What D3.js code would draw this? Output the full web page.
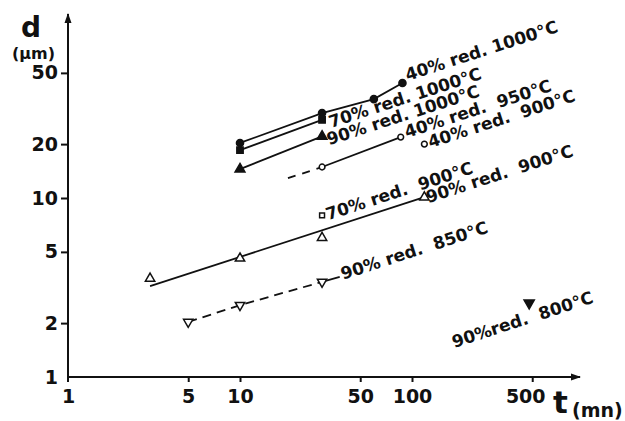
<!DOCTYPE html>
<html>
<head>
<meta charset="utf-8">
<script src="https://cdn.jsdelivr.net/npm/d3@7"></script>
<style>
body { margin: 0; background: #fff; }
text { font-family: "DejaVu Sans", "Liberation Sans", sans-serif; font-weight: bold; fill: #111; }
.lbl { font-size: 17px; letter-spacing: 0px; white-space: pre; }
</style>
</head>
<body>
<svg id="chart" width="625" height="421"></svg>
<script>
// tick values of both log axes
const xTicks = [1, 5, 10, 50, 100, 500];
const yTicks = [1, 2, 5, 10, 20, 50];

// grain size d (µm) vs annealing time t (mn), as [t, d]
const red40_1000 = [[10, 20.3], [30, 29.8], [60, 35.7], [88, 43.9]];
const red70_1000 = [[10, 18.5], [30, 27.3]];
const red90_1000 = [[10, 14.5], [30, 22.1]];
const red40_950 = [[30, 14.9], [86, 21.9]];
const red40_950ext = [[19, 12.9], [30, 14.9]];
const red40_900 = [[118, 20.0]];
const red70_900 = [[30, 8.0]];
const red90_900 = [[3, 3.55], [10, 4.6], [30, 6.0], [118, 10.1]];
const red90_900fit = [[3, 3.22], [118, 10.1]];
const red90_850 = [[5, 2.03], [10, 2.52], [30, 3.4]];
const red90_850ext = [[30, 3.4], [38, 3.62]];
const red90_800 = [[480, 2.59]];

const labelTexts = [
    "40% red. 1000°C", "70% red. 1000°C", "90% red. 1000°C",
    "40% red.  950°C", "40% red.  900°C", "70% red.  900°C",
    "90% red.  900°C", "90% red.  850°C", "90%red.  800°C"
];

const svg = d3.select('#chart');

const x = d3.scaleLog().domain([1, 1000]).range([68, 584]);
const y = d3.scaleLog().domain([1, 100]).range([377, 19]);

const line = d3.line().x(d => x(d[0])).y(d => y(d[1]));

// axes
const defs = svg.append('defs');
defs.append('marker')
    .attr('id', 'arrow')
    .attr('viewBox', '0 0 10 10')
    .attr('refX', 9).attr('refY', 5)
    .attr('markerWidth', 5).attr('markerHeight', 5)
    .attr('markerUnits', 'strokeWidth')
    .attr('orient', 'auto')
    .append('path').attr('d', 'M0,1.5 L10,5 L0,8.5 Z').attr('fill', '#111');

const ax = svg.append('g').attr('stroke', '#111').attr('stroke-width', 2);
ax.append('line')
    .attr('x1', x(1)).attr('y1', y(1) + 5)
    .attr('x2', x(1)).attr('y2', 14)
    .attr('marker-end', 'url(#arrow)');
ax.append('line')
    .attr('x1', x(1)).attr('y1', y(1))
    .attr('x2', 580).attr('y2', y(1))
    .attr('marker-end', 'url(#arrow)');

const yAxis = svg.append('g')
    .attr('transform', `translate(${x(1)},0)`)
    .call(d3.axisLeft(y).tickValues(yTicks).tickFormat(d3.format('d')).tickSize(7).tickPadding(3));
const xAxis = svg.append('g')
    .attr('transform', `translate(0,${y(1)})`)
    .call(d3.axisBottom(x).tickValues(xTicks).tickFormat(d3.format('d')).tickSize(5).tickPadding(8));
[yAxis, xAxis].forEach(g => {
    g.select('.domain').remove();
    g.selectAll('line').attr('stroke', '#111').attr('stroke-width', 2);
    g.selectAll('text').attr('font-family', null).attr('font-size', null)
        .style('font-size', '19px').attr('fill', '#111');
});
yAxis.selectAll('.tick').filter(d => d === 1).select('line').remove();
xAxis.selectAll('.tick').filter(d => d === 1).select('line').remove();
// the 500 label sits a little left of its tick, clear of the "t"
xAxis.selectAll('.tick').filter(d => d === 500).select('text').attr('dx', -7);

// axis titles
svg.append('text').attr('x', 21).attr('y', 37).style('font-size', '28px').text('d');
svg.append('text').attr('x', 12).attr('y', 59).style('font-size', '16px').text('(µm)');
svg.append('text').attr('x', 553).attr('y', 413).style('font-size', '31px').text('t');
svg.append('text').attr('x', 572).attr('y', 417).style('font-size', '19px').text('(mn)');

// lines
const lines = [
    {data: red40_1000, dash: null},
    {data: red70_1000, dash: null},
    {data: red90_1000, dash: null},
    {data: red40_950, dash: null},
    {data: red40_950ext, dash: '8,7'},
    {data: red90_900fit, dash: null},
    {data: red90_850, dash: '9,6'},
    {data: red90_850ext, dash: null}
];
svg.append('g').selectAll('path')
    .data(lines)
    .enter()
    .append('path')
    .attr('d', d => line(d.data))
    .attr('fill', 'none')
    .attr('stroke', '#111')
    .attr('stroke-width', 1.8)
    .attr('stroke-dasharray', d => d.dash);

// markers
const markerSets = [
    {data: red40_1000, type: d3.symbolCircle, size: 40, filled: true, rot: 0},
    {data: red70_1000, type: d3.symbolSquare, size: 40, filled: true, rot: 0},
    {data: red90_1000, type: d3.symbolTriangle, size: 42, filled: true, rot: 0},
    {data: red40_950, type: d3.symbolCircle, size: 26, filled: false, rot: 0},
    {data: red40_900, type: d3.symbolCircle, size: 26, filled: false, rot: 0},
    {data: red70_900, type: d3.symbolSquare, size: 24, filled: false, rot: 0},
    {data: red90_900, type: d3.symbolTriangle, size: 38, filled: false, rot: 0},
    {data: red90_850, type: d3.symbolTriangle, size: 38, filled: false, rot: 180},
    {data: red90_800, type: d3.symbolTriangle, size: 45, filled: true, rot: 180}
];
markerSets.forEach(s => {
    svg.append('g').selectAll('path')
        .data(s.data)
        .enter()
        .append('path')
        .attr('d', d3.symbol().type(s.type).size(s.size))
        .attr('transform', d => `translate(${x(d[0])},${y(d[1])}) rotate(${s.rot})`)
        .attr('fill', s.filled ? '#111' : '#fff')
        .attr('stroke', '#111')
        .attr('stroke-width', 1.5);
});

// rotated series labels, anchored to a point of each series
const labelAnchors = [
    {p: red40_1000[3], dx: 5, dy: -2},
    {p: red70_1000[1], dx: 9, dy: 8},
    {p: red90_1000[1], dx: 7, dy: 9},
    {p: red40_950[1], dx: 6, dy: 1},
    {p: red40_900[0], dx: 6, dy: 4},
    {p: red70_900[0], dx: 6, dy: 5},
    {p: red90_900[3], dx: 4, dy: 6},
    {p: red90_850[2], dx: 21, dy: -2},
    {p: red90_800[0], dx: -75, dy: 45}
];
svg.append('g').selectAll('text')
    .data(labelTexts)
    .enter()
    .append('text')
    .attr('class', 'lbl')
    .attr('xml:space', 'preserve')
    .attr('transform', (d, i) => {
        const a = labelAnchors[i];
        return `translate(${x(a.p[0]) + a.dx},${y(a.p[1]) + a.dy}) rotate(-18)`;
    })
    .text(d => d);
</script>
</body>
</html>
